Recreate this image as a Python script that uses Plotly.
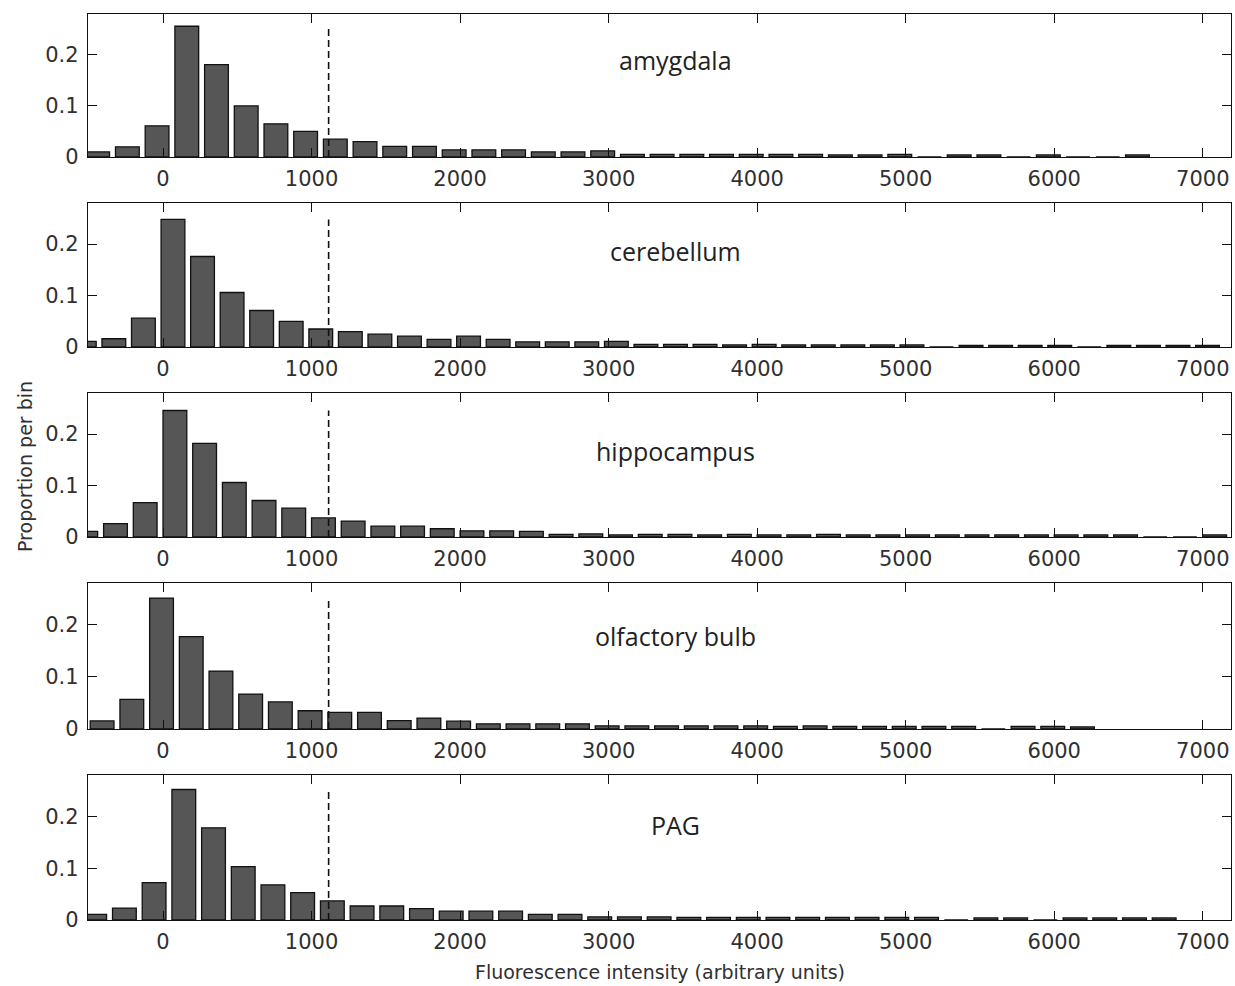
import plotly.graph_objects as go

# ---------------- data ----------------
regions = ["amygdala", "cerebellum", "hippocampus", "olfactory bulb", "PAG"]

amygdala_centers = [-440, -240, -40, 160, 360, 560, 760, 960, 1160, 1360, 1560, 1760, 1960, 2160,
                    2360, 2560, 2760, 2960, 3160, 3360, 3560, 3760, 3960, 4160, 4360, 4560, 4760,
                    4960, 5160, 5360, 5560, 5760, 5960, 6160, 6360, 6560]
amygdala_values = [0.010, 0.020, 0.061, 0.256, 0.181, 0.100, 0.065, 0.050, 0.035, 0.030, 0.021,
                   0.021, 0.014, 0.014, 0.014, 0.010, 0.010, 0.012, 0.005, 0.005, 0.005, 0.005,
                   0.005, 0.005, 0.005, 0.004, 0.004, 0.005, 0.0, 0.004, 0.004, 0.0, 0.004, 0.0,
                   0.0, 0.004]

cerebellum_centers = [-530, -331, -132, 67, 266, 465, 664, 863, 1062, 1261, 1460, 1659, 1858, 2057,
                      2256, 2455, 2654, 2853, 3052, 3251, 3450, 3649, 3848, 4047, 4246, 4445, 4644,
                      4843, 5042, 5241, 5440, 5639, 5838, 6037, 6236, 6435, 6634, 6833, 7032]
cerebellum_values = [0.011, 0.016, 0.056, 0.248, 0.176, 0.106, 0.071, 0.050, 0.035, 0.030, 0.025,
                     0.021, 0.015, 0.021, 0.015, 0.010, 0.010, 0.010, 0.011, 0.005, 0.005, 0.005,
                     0.004, 0.005, 0.004, 0.004, 0.004, 0.004, 0.004, 0.0, 0.003, 0.003, 0.003,
                     0.003, 0.0, 0.003, 0.003, 0.003, 0.003]

hippocampus_centers = [-520, -320, -120, 80, 280, 480, 680, 880, 1080, 1280, 1480, 1680, 1880,
                       2080, 2280, 2480, 2680, 2880, 3080, 3280, 3480, 3680, 3880, 4080, 4280,
                       4480, 4680, 4880, 5080, 5280, 5480, 5680, 5880, 6080, 6280, 6480, 6680,
                       6880, 7080]
hippocampus_values = [0.011, 0.026, 0.067, 0.246, 0.182, 0.106, 0.071, 0.056, 0.037, 0.031, 0.021,
                      0.021, 0.016, 0.012, 0.012, 0.011, 0.005, 0.006, 0.004, 0.005, 0.005, 0.004,
                      0.005, 0.004, 0.004, 0.005, 0.004, 0.004, 0.004, 0.004, 0.004, 0.004, 0.004,
                      0.004, 0.004, 0.004, 0.0, 0.0, 0.004]

olfactory_centers = [-410, -210, -10, 190, 390, 590, 790, 990, 1190, 1390, 1590, 1790, 1990, 2190,
                     2390, 2590, 2790, 2990, 3190, 3390, 3590, 3790, 3990, 4190, 4390, 4590, 4790,
                     4990, 5190, 5390, 5590, 5790, 5990, 6190]
olfactory_values = [0.0155, 0.057, 0.251, 0.177, 0.111, 0.067, 0.052, 0.035, 0.032, 0.032, 0.016,
                    0.021, 0.015, 0.010, 0.010, 0.010, 0.010, 0.006, 0.006, 0.006, 0.006, 0.006,
                    0.006, 0.005, 0.006, 0.005, 0.005, 0.005, 0.005, 0.005, 0.0, 0.005, 0.005,
                    0.004]

pag_centers = [-460, -260, -60, 140, 340, 540, 740, 940, 1140, 1340, 1540, 1740, 1940, 2140, 2340,
               2540, 2740, 2940, 3140, 3340, 3540, 3740, 3940, 4140, 4340, 4540, 4740, 4940, 5140,
               5340, 5540, 5740, 5940, 6140, 6340, 6540, 6740]
pag_values = [0.011, 0.023, 0.072, 0.252, 0.178, 0.103, 0.068, 0.053, 0.037, 0.027, 0.027, 0.022,
              0.017, 0.017, 0.017, 0.011, 0.011, 0.006, 0.006, 0.006, 0.005, 0.005, 0.005, 0.005,
              0.005, 0.005, 0.005, 0.005, 0.005, 0.0, 0.004, 0.004, 0.0, 0.004, 0.004, 0.004, 0.004]

threshold = 1115
x_ticks = [0, 1000, 2000, 3000, 4000, 5000, 6000, 7000]
y_ticks = [0, 0.1, 0.2]
y_tick_labels = ["0", "0.1", "0.2"]
x_title = "Fluorescence intensity (arbitrary units)"
y_title = "Proportion per bin"

series = [
    (amygdala_centers, amygdala_values),
    (cerebellum_centers, cerebellum_values),
    (hippocampus_centers, hippocampus_values),
    (olfactory_centers, olfactory_values),
    (pag_centers, pag_values),
]

# ---------------- layout geometry (pixels) ----------------
W, H = 1235, 986
m_l, m_r, m_t, m_b = 88, 4, 14, 66
plot_h = H - m_t - m_b
panel_tops = [14, 203, 393, 583, 775]
panel_bottoms = [157, 347, 537, 729, 920]
label_y = [0.19, 0.186, 0.167, 0.178, 0.184]

tick_font = dict(family="DejaVu Sans", size=21, color="#303030")

fig = go.Figure()
annotations = []
for i, ((xs, ys), name) in enumerate(zip(series, regions)):
    n = i + 1
    xa = "x" if n == 1 else f"x{n}"
    ya = "y" if n == 1 else f"y{n}"
    fig.add_trace(go.Bar(
        x=xs, y=ys, width=160, xaxis=xa, yaxis=ya,
        marker=dict(color="#565656", line=dict(color="#111111", width=1.3)),
        showlegend=False, hoverinfo="skip",
    ))
    fig.add_trace(go.Scatter(
        x=[threshold, threshold], y=[0, max(ys)], xaxis=xa, yaxis=ya, mode="lines",
        line=dict(color="#111111", width=1.6, dash="7px,4px"),
        showlegend=False, hoverinfo="skip",
    ))
    d0 = (H - m_b - panel_bottoms[i]) / plot_h
    d1 = (H - m_b - panel_tops[i]) / plot_h
    common = dict(
        showline=True, linecolor="#111111", linewidth=1.3, mirror="ticks",
        ticks="inside", ticklen=9, tickwidth=1.2, tickcolor="#111111",
        showgrid=False, zeroline=False, tickfont=tick_font,
    )
    fig.update_layout(**{
        ("xaxis" if n == 1 else f"xaxis{n}"): dict(
            domain=[0, 1], range=[-505, 7190], anchor=ya,
            tickvals=x_ticks, ticklabelstandoff=3, **common),
        ("yaxis" if n == 1 else f"yaxis{n}"): dict(
            domain=[d0, min(d1, 1.0)], range=[0, 0.28], anchor=xa,
            tickvals=y_ticks, ticktext=y_tick_labels, ticklabelstandoff=4, **common),
    })
    annotations.append(dict(
        text=name, xref=xa, yref=ya, x=3450, y=label_y[i], showarrow=False,
        xanchor="center", yanchor="middle",
        font=dict(family="Open Sans", size=25, color="#222222"),
    ))

annotations.append(dict(
    text=y_title, xref="paper", yref="paper", x=(25 - m_l) / (W - m_l - m_r), y=0.5,
    textangle=-90, showarrow=False, xanchor="center", yanchor="middle",
    font=dict(family="DejaVu Sans", size=19, color="#303030"),
))
annotations.append(dict(
    text=x_title, xref="paper", yref="paper", x=0.5, y=-(972 - (H - m_b)) / plot_h,
    showarrow=False, xanchor="center", yanchor="middle",
    font=dict(family="DejaVu Sans", size=19, color="#303030"),
))

fig.update_layout(
    width=W, height=H,
    margin=dict(l=m_l, r=m_r, t=m_t, b=m_b),
    paper_bgcolor="white", plot_bgcolor="white",
    barmode="overlay",
    annotations=annotations,
)

fig.write_html(
    "out.html",
    config={"displayModeBar": False},
    post_script="document.body.style.margin='0';document.body.style.overflow='hidden';",
)
